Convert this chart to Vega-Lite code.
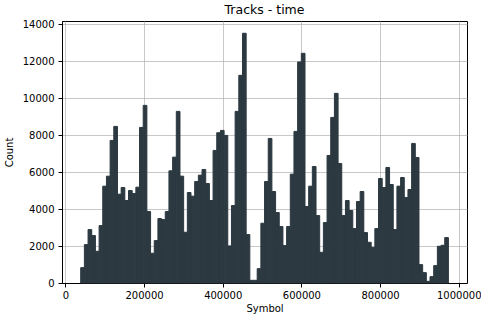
{
  "$schema": "https://vega.github.io/schema/vega-lite/v6.json",
  "autosize": "none",
  "width": 405,
  "height": 262,
  "padding": {"left": 62, "top": 21, "right": 14, "bottom": 38},
  "background": "white",
  "config": {
    "font": "DejaVu Sans",
    "view": {"stroke": "#000000", "strokeWidth": 1},
    "axis": {
      "labelFont": "DejaVu Sans",
      "titleFont": "DejaVu Sans",
      "labelFontSize": 10,
      "titleFontSize": 10,
      "titleFontWeight": "normal",
      "labelColor": "#000000",
      "titleColor": "#000000",
      "tickColor": "#000000",
      "tickSize": 4,
      "domainColor": "#000000",
      "gridColor": "#b0b0b0",
      "gridOpacity": 0.7,
      "gridWidth": 1,
      "zindex": 1
    },
    "title": {"font": "DejaVu Sans", "fontSize": 12.5, "fontWeight": "normal", "color": "#000000", "offset": 3}
  },
  "title": {"text": "Tracks - time"},
  "data": {
    "values": [
      {"start": 38900, "end": 48248, "count": 831},
      {"start": 48248, "end": 57596, "count": 2078},
      {"start": 57596, "end": 66944, "count": 2891},
      {"start": 66944, "end": 76292, "count": 2566},
      {"start": 76292, "end": 85640, "count": 1717},
      {"start": 85640, "end": 94988, "count": 3108},
      {"start": 94988, "end": 104336, "count": 5240},
      {"start": 104336, "end": 113684, "count": 5782},
      {"start": 113684, "end": 123032, "count": 7716},
      {"start": 123032, "end": 132380, "count": 8475},
      {"start": 132380, "end": 141728, "count": 4807},
      {"start": 141728, "end": 151076, "count": 5168},
      {"start": 151076, "end": 160424, "count": 4463},
      {"start": 160424, "end": 169772, "count": 5005},
      {"start": 169772, "end": 179120, "count": 4843},
      {"start": 179120, "end": 188468, "count": 5186},
      {"start": 188468, "end": 197816, "count": 8421},
      {"start": 197816, "end": 207164, "count": 9613},
      {"start": 207164, "end": 216512, "count": 3867},
      {"start": 216512, "end": 225860, "count": 1608},
      {"start": 225860, "end": 235208, "count": 2295},
      {"start": 235208, "end": 244556, "count": 3488},
      {"start": 244556, "end": 253904, "count": 3433},
      {"start": 253904, "end": 263252, "count": 3867},
      {"start": 263252, "end": 272600, "count": 6072},
      {"start": 272600, "end": 281948, "count": 6812},
      {"start": 281948, "end": 291296, "count": 9288},
      {"start": 291296, "end": 300644, "count": 5782},
      {"start": 300644, "end": 309992, "count": 2747},
      {"start": 309992, "end": 319340, "count": 4897},
      {"start": 319340, "end": 328688, "count": 4698},
      {"start": 328688, "end": 338036, "count": 5493},
      {"start": 338036, "end": 347384, "count": 5837},
      {"start": 347384, "end": 356732, "count": 6144},
      {"start": 356732, "end": 366080, "count": 5385},
      {"start": 366080, "end": 375428, "count": 4463},
      {"start": 375428, "end": 384776, "count": 7174},
      {"start": 384776, "end": 394124, "count": 8132},
      {"start": 394124, "end": 403472, "count": 8258},
      {"start": 403472, "end": 412820, "count": 7987},
      {"start": 412820, "end": 422168, "count": 2006},
      {"start": 422168, "end": 431516, "count": 4192},
      {"start": 431516, "end": 440864, "count": 9288},
      {"start": 440864, "end": 450212, "count": 11240},
      {"start": 450212, "end": 459560, "count": 13516},
      {"start": 459560, "end": 468908, "count": 2620},
      {"start": 468908, "end": 478256, "count": 145},
      {"start": 478256, "end": 487604, "count": 145},
      {"start": 487604, "end": 496952, "count": 777},
      {"start": 496952, "end": 506300, "count": 3235},
      {"start": 506300, "end": 515648, "count": 5493},
      {"start": 515648, "end": 524996, "count": 7824},
      {"start": 524996, "end": 534344, "count": 4951},
      {"start": 534344, "end": 543692, "count": 3813},
      {"start": 543692, "end": 553040, "count": 3054},
      {"start": 553040, "end": 562388, "count": 2024},
      {"start": 562388, "end": 571736, "count": 3054},
      {"start": 571736, "end": 581084, "count": 5891},
      {"start": 581084, "end": 590432, "count": 8204},
      {"start": 590432, "end": 599780, "count": 11962},
      {"start": 599780, "end": 609128, "count": 12432},
      {"start": 609128, "end": 618476, "count": 4138},
      {"start": 618476, "end": 627824, "count": 5240},
      {"start": 627824, "end": 637172, "count": 6306},
      {"start": 637172, "end": 646520, "count": 3650},
      {"start": 646520, "end": 655868, "count": 1662},
      {"start": 655868, "end": 665216, "count": 3271},
      {"start": 665216, "end": 674564, "count": 6903},
      {"start": 674564, "end": 683912, "count": 8963},
      {"start": 683912, "end": 693260, "count": 10264},
      {"start": 693260, "end": 702608, "count": 6469},
      {"start": 702608, "end": 711956, "count": 3650},
      {"start": 711956, "end": 721304, "count": 4463},
      {"start": 721304, "end": 730652, "count": 3921},
      {"start": 730652, "end": 740000, "count": 2945},
      {"start": 740000, "end": 749348, "count": 4409},
      {"start": 749348, "end": 758696, "count": 4951},
      {"start": 758696, "end": 768044, "count": 2729},
      {"start": 768044, "end": 777392, "count": 2205},
      {"start": 777392, "end": 786740, "count": 1933},
      {"start": 786740, "end": 796088, "count": 2945},
      {"start": 796088, "end": 805436, "count": 5656},
      {"start": 805436, "end": 814784, "count": 5168},
      {"start": 814784, "end": 824132, "count": 6252},
      {"start": 824132, "end": 833480, "count": 5331},
      {"start": 833480, "end": 842828, "count": 2891},
      {"start": 842828, "end": 852176, "count": 5240},
      {"start": 852176, "end": 861524, "count": 5710},
      {"start": 861524, "end": 870872, "count": 4626},
      {"start": 870872, "end": 880220, "count": 5060},
      {"start": 880220, "end": 889568, "count": 7553},
      {"start": 889568, "end": 898916, "count": 6794},
      {"start": 898916, "end": 908264, "count": 994},
      {"start": 908264, "end": 917612, "count": 560},
      {"start": 917612, "end": 926960, "count": 90},
      {"start": 926960, "end": 936308, "count": 343},
      {"start": 936308, "end": 945656, "count": 940},
      {"start": 945656, "end": 955004, "count": 1988},
      {"start": 955004, "end": 964352, "count": 2042},
      {"start": 964352, "end": 973700, "count": 2458}
    ]
  },
  "mark": {"type": "rect", "color": "#2c3941", "stroke": "#2c3941", "strokeWidth": 1},
  "encoding": {
    "x": {
      "field": "start",
      "type": "quantitative",
      "title": "Symbol",
      "scale": {"domain": [-8644, 1021000], "nice": false, "zero": false},
      "axis": {"values": [0, 200000, 400000, 600000, 800000, 1000000], "format": "d", "labelPadding": 3, "titlePadding": 3, "labelFlush": false}
    },
    "x2": {"field": "end"},
    "y": {
      "field": "count",
      "type": "quantitative",
      "title": "Count",
      "scale": {"domain": [0, 14180], "nice": false},
      "axis": {"values": [0, 2000, 4000, 6000, 8000, 10000, 12000, 14000], "format": "d", "labelPadding": 4, "titlePadding": 8}
    },
    "y2": {"datum": 0}
  }
}
